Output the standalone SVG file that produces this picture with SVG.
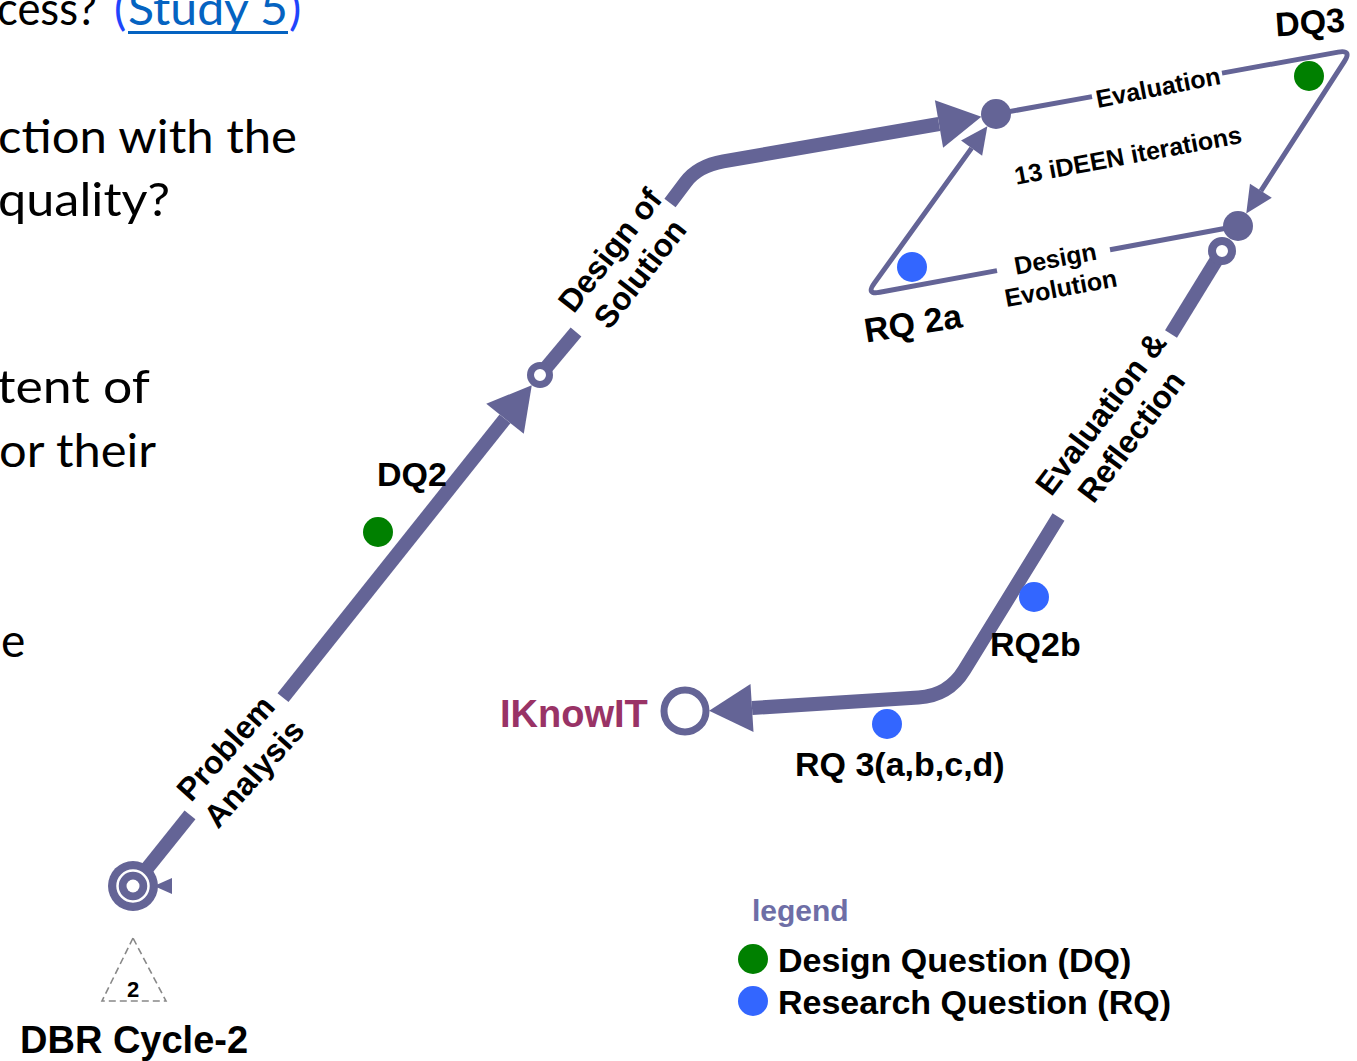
<svg xmlns="http://www.w3.org/2000/svg" width="1357" height="1061" viewBox="0 0 1357 1061">
<defs>
<style>
.body{font-family:Lato,"Liberation Sans",sans-serif;font-size:46px;fill:#000}
.lbl{font-family:"Liberation Sans",Arial,sans-serif;font-weight:bold;fill:#000}
.thick{fill:none;stroke:#646496;stroke-width:14}
.thin{fill:none;stroke:#646496;stroke-width:5}
.dq{fill:#008000}
.rq{fill:#3366ff}
.pf{fill:#646496}
.ring{fill:#fff;stroke:#646496}
</style>
<marker id="ahThick" markerUnits="userSpaceOnUse" viewBox="0 -25 44 50" markerWidth="44" markerHeight="50" refX="0" refY="0" orient="auto" overflow="visible"><path d="M0,-24 L43,0 L0,24 Z" fill="#646496"/></marker>
<marker id="ahThin" markerUnits="userSpaceOnUse" viewBox="0 -14 28 28" markerWidth="28" markerHeight="28" refX="0" refY="0" orient="auto" overflow="visible"><path d="M0,-13 L27,0 L0,13 Z" fill="#646496"/></marker>
</defs>
<rect width="1357" height="1061" fill="#fff"/>

<g id="background-text">
<text class="body" x="-3" y="25" textLength="100" lengthAdjust="spacingAndGlyphs">cess?</text>
<text class="body" x="114" y="25" style="fill:#1f45fc">(</text>
<text class="body" x="128" y="25" textLength="160" lengthAdjust="spacingAndGlyphs" style="fill:#0563c1">Study 5</text>
<rect x="128" y="31" width="160" height="3" fill="#0563c1"/>
<text class="body" x="289" y="25" style="fill:#1f45fc">)</text>
<text class="body" x="-2" y="153" textLength="299" lengthAdjust="spacingAndGlyphs">ction with the</text>
<text class="body" x="-2" y="216" textLength="172" lengthAdjust="spacingAndGlyphs">quality?</text>
<text class="body" x="-3" y="403" textLength="153" lengthAdjust="spacingAndGlyphs">tent of</text>
<text class="body" x="-1" y="467" textLength="157" lengthAdjust="spacingAndGlyphs">or their</text>
<text class="body" x="1" y="657">e</text>
</g>

<g id="connectors">
<path class="thick" d="M133 886 L190 814.8"/>
<path class="thick" d="M283 697.7 L505 418.8" marker-end="url(#ahThick)"/>
<path class="thick" d="M540 375 L576 332"/>
<path class="thick" d="M670 203 L685.6 182.2 Q697.9 165.9 723.3 161.4 L939 124" marker-end="url(#ahThick)"/>
<path class="thick" d="M1222 251 L1171 334"/>
<path class="thick" d="M1058.5 517 L964.2 670.1 Q948.5 695.7 918.5 697.5 L752 708" marker-end="url(#ahThick)"/>
<path class="thin" d="M996 114 L1092 96.6"/>
<path class="thin" d="M1222 73.1 L1338.2 52.1 Q1352 49.6 1344.4 61.3 L1260.9 190.8" marker-end="url(#ahThin)"/>
<path class="thin" d="M1238 226 L1110 249.7"/>
<path class="thin" d="M997 270.6 L879.8 292.3 Q866 294.8 874.2 283.4 L971.6 148.1" marker-end="url(#ahThin)"/>
</g>

<g id="start-node">
<polygon class="pf" points="172,878 172,894 154,886"/>
<circle class="pf" cx="133" cy="886" r="25"/>
<circle cx="133" cy="886" r="15.5" fill="none" stroke="#fff" stroke-width="2.5"/>
<circle cx="133" cy="886" r="6.5" fill="#fff"/>
</g>
<g id="ring-design"><circle class="ring" cx="540" cy="375" r="9.5" stroke-width="7"/></g>
<g id="node-a"><circle class="pf" cx="996" cy="114" r="15"/></g>
<g id="node-b"><circle class="pf" cx="1238" cy="226" r="15"/></g>
<g id="ring-eval"><circle class="ring" cx="1222" cy="251" r="10" stroke-width="8"/></g>
<g id="iknowit">
<circle class="ring" cx="685" cy="711" r="21" stroke-width="7"/>
<text class="lbl" x="500" y="727" font-size="38" style="fill:#993366">IKnowIT</text>
</g>

<g id="label-problem" transform="translate(239,760) rotate(-48)">
<text class="lbl" font-size="32" text-anchor="middle" x="0" y="-7">Problem</text>
<text class="lbl" font-size="32" text-anchor="middle" x="0" y="31">Analysis</text>
</g>
<g id="label-design" transform="translate(625,262) rotate(-52)">
<text class="lbl" font-size="32" text-anchor="middle" x="0" y="-8">Design of</text>
<text class="lbl" font-size="32" text-anchor="middle" x="0" y="30">Solution</text>
</g>
<g id="label-eval" transform="translate(1116,425) rotate(-53)">
<text class="lbl" font-size="32" text-anchor="middle" x="0" y="-8">Evaluation &amp;</text>
<text class="lbl" font-size="32" text-anchor="middle" x="0" y="30">Reflection</text>
</g>
<g id="label-evaluation" transform="translate(1158,87) rotate(-11)">
<text class="lbl" font-size="25" text-anchor="middle" x="0" y="9">Evaluation</text>
</g>
<g id="label-iterations" transform="translate(1128,155) rotate(-10.5)">
<text class="lbl" font-size="25" text-anchor="middle" x="0" y="9">13 iDEEN iterations</text>
</g>
<g id="label-devol" transform="translate(1058,273) rotate(-10.5)">
<text class="lbl" font-size="25" text-anchor="middle" x="0" y="-6">Design</text>
<text class="lbl" font-size="25" text-anchor="middle" x="0" y="24">Evolution</text>
</g>

<g id="dq2"><circle class="dq" cx="378" cy="532" r="15"/><text class="lbl" font-size="34" x="377" y="486">DQ2</text></g>
<g id="dq3"><circle class="dq" cx="1309" cy="76" r="15"/><text class="lbl" font-size="34" text-anchor="middle" transform="translate(1310,22) rotate(-4)" x="0" y="12">DQ3</text></g>
<g id="rq2a"><circle class="rq" cx="912" cy="267" r="15"/><text class="lbl" font-size="34" text-anchor="middle" transform="translate(913,323) rotate(-9)" x="0" y="12">RQ 2a</text></g>
<g id="rq2b"><circle class="rq" cx="1034" cy="597" r="15"/><text class="lbl" font-size="34" x="990" y="656">RQ2b</text></g>
<g id="rq3"><circle class="rq" cx="887" cy="724" r="15"/><text class="lbl" font-size="34" x="795" y="776">RQ 3(a,b,c,d)</text></g>

<g id="cycle">
<polygon points="133,938 102,1001 166,1001" fill="none" stroke="#888" stroke-width="1.6" stroke-dasharray="7,4"/>
<text class="lbl" font-size="22" text-anchor="middle" x="133" y="997">2</text>
<text class="lbl" font-size="38" x="20" y="1053">DBR Cycle-2</text>
</g>

<g id="legend">
<text class="lbl" font-size="30" x="752" y="921" style="fill:#6e6ea6">legend</text>
<circle class="dq" cx="753" cy="959" r="15"/>
<text class="lbl" font-size="34" x="778" y="972">Design Question (DQ)</text>
<circle class="rq" cx="753" cy="1001" r="15"/>
<text class="lbl" font-size="34" x="778" y="1014">Research Question (RQ)</text>
</g>
</svg>
